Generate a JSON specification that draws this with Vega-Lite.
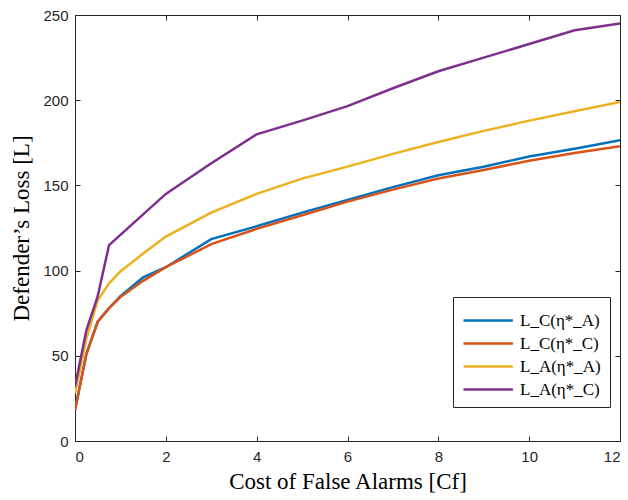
{
  "$schema": "https://vega.github.io/schema/vega-lite/v6.json",
  "autosize": {"type": "none"},
  "padding": {"left": 75, "top": 15, "right": 8, "bottom": 59},
  "width": 545,
  "height": 426,
  "background": "white",
  "config": {
    "view": {"stroke": null},
    "axis": {
      "domainColor": "#262626",
      "domainWidth": 1,
      "tickColor": "#262626",
      "tickWidth": 1,
      "tickSize": -5,
      "grid": false,
      "labelFont": "Liberation Sans",
      "labelFontSize": 15,
      "labelColor": "#262626",
      "titleFont": "Liberation Serif",
      "titleFontSize": 23,
      "titleFontWeight": "normal",
      "titleColor": "#000000"
    }
  },
  "data": {
    "values": [
      {"x": 0, "y": 18, "s": "L_C(η*_A)"},
      {"x": 0.25, "y": 51, "s": "L_C(η*_A)"},
      {"x": 0.5, "y": 70, "s": "L_C(η*_A)"},
      {"x": 0.75, "y": 78, "s": "L_C(η*_A)"},
      {"x": 1, "y": 85, "s": "L_C(η*_A)"},
      {"x": 1.5, "y": 96, "s": "L_C(η*_A)"},
      {"x": 2, "y": 102, "s": "L_C(η*_A)"},
      {"x": 3, "y": 118.5, "s": "L_C(η*_A)"},
      {"x": 4, "y": 126, "s": "L_C(η*_A)"},
      {"x": 5, "y": 134, "s": "L_C(η*_A)"},
      {"x": 6, "y": 141.5, "s": "L_C(η*_A)"},
      {"x": 7, "y": 149, "s": "L_C(η*_A)"},
      {"x": 8, "y": 156, "s": "L_C(η*_A)"},
      {"x": 9, "y": 161, "s": "L_C(η*_A)"},
      {"x": 10, "y": 167, "s": "L_C(η*_A)"},
      {"x": 11, "y": 171.5, "s": "L_C(η*_A)"},
      {"x": 12, "y": 176.5, "s": "L_C(η*_A)"},
      {"x": 0, "y": 18, "s": "L_C(η*_C)"},
      {"x": 0.25, "y": 51, "s": "L_C(η*_C)"},
      {"x": 0.5, "y": 70, "s": "L_C(η*_C)"},
      {"x": 0.75, "y": 78, "s": "L_C(η*_C)"},
      {"x": 1, "y": 84.5, "s": "L_C(η*_C)"},
      {"x": 1.5, "y": 94, "s": "L_C(η*_C)"},
      {"x": 2, "y": 102, "s": "L_C(η*_C)"},
      {"x": 3, "y": 115.5, "s": "L_C(η*_C)"},
      {"x": 4, "y": 124.5, "s": "L_C(η*_C)"},
      {"x": 5, "y": 132.5, "s": "L_C(η*_C)"},
      {"x": 6, "y": 140.5, "s": "L_C(η*_C)"},
      {"x": 7, "y": 147.5, "s": "L_C(η*_C)"},
      {"x": 8, "y": 154, "s": "L_C(η*_C)"},
      {"x": 9, "y": 159, "s": "L_C(η*_C)"},
      {"x": 10, "y": 164.5, "s": "L_C(η*_C)"},
      {"x": 11, "y": 169, "s": "L_C(η*_C)"},
      {"x": 12, "y": 173, "s": "L_C(η*_C)"},
      {"x": 0, "y": 28, "s": "L_A(η*_A)"},
      {"x": 0.25, "y": 60, "s": "L_A(η*_A)"},
      {"x": 0.5, "y": 82.5, "s": "L_A(η*_A)"},
      {"x": 0.75, "y": 92.5, "s": "L_A(η*_A)"},
      {"x": 1, "y": 99.5, "s": "L_A(η*_A)"},
      {"x": 1.5, "y": 110, "s": "L_A(η*_A)"},
      {"x": 2, "y": 120, "s": "L_A(η*_A)"},
      {"x": 3, "y": 134, "s": "L_A(η*_A)"},
      {"x": 4, "y": 145, "s": "L_A(η*_A)"},
      {"x": 5, "y": 154, "s": "L_A(η*_A)"},
      {"x": 6, "y": 161, "s": "L_A(η*_A)"},
      {"x": 7, "y": 168.5, "s": "L_A(η*_A)"},
      {"x": 8, "y": 175.5, "s": "L_A(η*_A)"},
      {"x": 9, "y": 182, "s": "L_A(η*_A)"},
      {"x": 10, "y": 188, "s": "L_A(η*_A)"},
      {"x": 11, "y": 193.5, "s": "L_A(η*_A)"},
      {"x": 12, "y": 199, "s": "L_A(η*_A)"},
      {"x": 0, "y": 32, "s": "L_A(η*_C)"},
      {"x": 0.25, "y": 65, "s": "L_A(η*_C)"},
      {"x": 0.5, "y": 85, "s": "L_A(η*_C)"},
      {"x": 0.75, "y": 115, "s": "L_A(η*_C)"},
      {"x": 1, "y": 121, "s": "L_A(η*_C)"},
      {"x": 1.5, "y": 133, "s": "L_A(η*_C)"},
      {"x": 2, "y": 145, "s": "L_A(η*_C)"},
      {"x": 3, "y": 163, "s": "L_A(η*_C)"},
      {"x": 4, "y": 180, "s": "L_A(η*_C)"},
      {"x": 5, "y": 188, "s": "L_A(η*_C)"},
      {"x": 6, "y": 196.5, "s": "L_A(η*_C)"},
      {"x": 7, "y": 207, "s": "L_A(η*_C)"},
      {"x": 8, "y": 217, "s": "L_A(η*_C)"},
      {"x": 9, "y": 225, "s": "L_A(η*_C)"},
      {"x": 10, "y": 233, "s": "L_A(η*_C)"},
      {"x": 11, "y": 241, "s": "L_A(η*_C)"},
      {"x": 12, "y": 245, "s": "L_A(η*_C)"}
    ]
  },
  "resolve": {"axis": {"x": "independent", "y": "independent"}},
  "layer": [
    {
      "mark": {"type": "point", "opacity": 0},
      "encoding": {
        "x": {"field": "x", "type": "quantitative", "scale": {"domain": [0, 12], "nice": false},
          "axis": {"orient": "top", "labels": false, "title": null, "values": [0, 2, 4, 6, 8, 10, 12]}},
        "y": {"field": "y", "type": "quantitative", "scale": {"domain": [0, 250], "nice": false},
          "axis": {"orient": "right", "labels": false, "title": null, "values": [0, 50, 100, 150, 200, 250]}}
      }
    },
    {
      "mark": {"type": "line", "strokeWidth": 2.5, "clip": true},
      "encoding": {
        "x": {"field": "x", "type": "quantitative", "scale": {"domain": [0, 12], "nice": false},
          "axis": {"orient": "bottom", "title": "Cost of False Alarms [Cf]", "values": [0, 2, 4, 6, 8, 10, 12], "labelPadding": 13, "titlePadding": 6}},
        "y": {"field": "y", "type": "quantitative", "scale": {"domain": [0, 250], "nice": false},
          "axis": {"orient": "left", "title": "Defender’s Loss [L]", "values": [0, 50, 100, 150, 200, 250], "labelPadding": 12, "titlePadding": 9}},
        "color": {
          "field": "s", "type": "nominal",
          "scale": {"domain": ["L_C(η*_A)", "L_C(η*_C)", "L_A(η*_A)", "L_A(η*_C)"], "range": ["#0072BD", "#D95319", "#EDB120", "#7E2F8E"]},
          "legend": {
            "title": null,
            "orient": "none",
            "legendX": 378,
            "legendY": 282,
            "strokeColor": "#262626",
            "fillColor": "white",
            "padding": 9,
            "symbolType": "M-1,0H2.8",
            "symbolSize": 676,
            "symbolStrokeWidth": 2.5,
            "labelFont": "Liberation Serif",
            "labelFontSize": 17,
            "labelColor": "#000000",
            "rowPadding": 0,
            "labelOffset": 29
          }
        }
      }
    }
  ]
}
